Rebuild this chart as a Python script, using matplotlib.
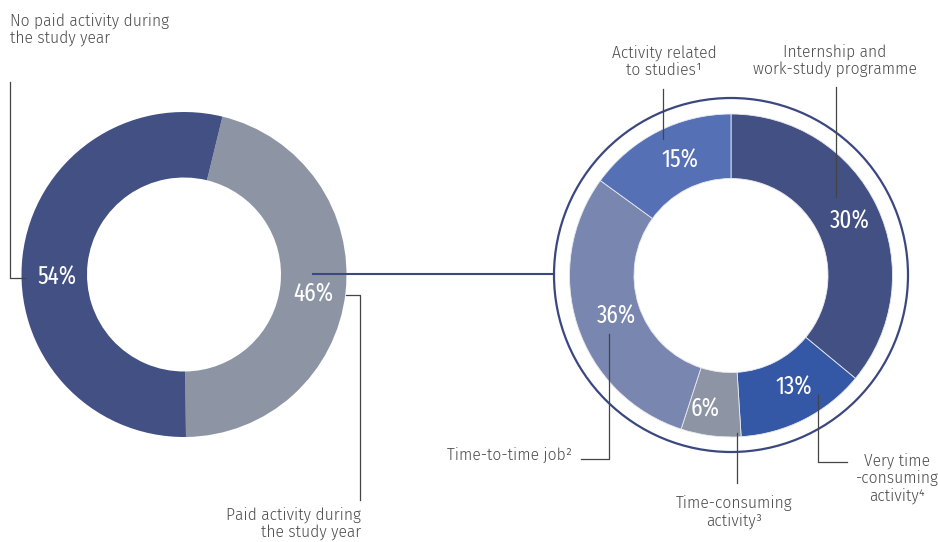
import matplotlib
matplotlib.use("Agg")
import matplotlib.pyplot as plt
from matplotlib.patches import Circle

# ---------------- data ----------------
left_categories = ["Paid activity during\nthe study year", "No paid activity during\nthe study year"]
left_shares = [46, 54]
left_labels = ["46%", "54%"]

right_categories = ["Internship and\nwork-study programme", "Very time\n-consuming\nactivity\u2074",
                    "Time-consuming\nactivity\u00b3", "Time-to-time job\u00b2", "Activity related\nto studies\u00b9"]
right_shares = [36, 13, 6, 30, 15]          # arc sizes as drawn in the picture
right_labels = ["30%", "13%", "6%", "36%", "15%"]  # printed labels

# ---------------- style ----------------
W, H = 938, 542
C_DARK = "#435084"
C_GREY = "#8d95a5"
C_BLUE = "#3457a6"
C_SLATE = "#7886b0"
C_MID = "#5570b5"
LINE_C = "#444444"
RING_C = "#3b4880"
TXT_C = "#4a4a4a"

fig = plt.figure(figsize=(W / 100, H / 100), dpi=100)
ax = fig.add_axes([0, 0, 1, 1])


def Y(y):
    return H - y


# left donut
ax.pie(left_shares, colors=[C_GREY, C_DARK], startangle=76.3, counterclock=False,
       center=(184, Y(274.5)), radius=162.5, wedgeprops=dict(width=65.5, linewidth=0))

# right donut
ax.pie(right_shares, colors=[C_DARK, C_BLUE, C_GREY, C_SLATE, C_MID], startangle=90,
       counterclock=False, center=(731, Y(275.5)), radius=161.5,
       wedgeprops=dict(width=64.5, linewidth=0.6, edgecolor="#e8eaf0"))

# outer ring around right donut
ax.add_patch(Circle((731, Y(275)), 177, fill=False, edgecolor=RING_C, linewidth=1.6))

ax.set_xlim(0, W)
ax.set_ylim(0, H)
ax.set_aspect("equal")
ax.axis("off")

# connector between donuts
ax.plot([313, 554], [Y(274), Y(274)], color=RING_C, lw=1.5)

pct_font = dict(family=["Fira Sans Extra Condensed", "DejaVu Sans"], fontweight=400,
                color="white", fontsize=18, ha="center", va="center")
# percentage labels
left_pos = [(313, 294), (57, 277)]
for (x, y), t in zip(left_pos, left_labels):
    ax.text(x, Y(y), t, **pct_font)
right_pos = [(850, 221), (794, 387), (705, 409), (616, 316), (680, 160)]
for (x, y), t in zip(right_pos, right_labels):
    ax.text(x, Y(y), t, **pct_font)

lab_font = dict(family=["Fira Sans", "DejaVu Sans"], fontweight=300, color=TXT_C,
                fontsize=11.3, linespacing=1.1)

# left annotations
ax.text(10, Y(29), left_categories[1], ha="left", va="center", **lab_font)
ax.plot([10, 10, 25], [Y(82), Y(277.5), Y(277.5)], color=LINE_C, lw=0.9)

ax.text(361, Y(523), left_categories[0], ha="right", va="center", **lab_font)
ax.plot([346, 360, 360], [Y(295), Y(295), Y(500)], color=LINE_C, lw=0.9)

# right annotations
ax.text(835, Y(61), right_categories[0], ha="center", va="center", **lab_font)
ax.plot([835.5, 835.5], [Y(87), Y(197)], color=LINE_C, lw=0.9)

ax.text(664, Y(61), right_categories[4], ha="center", va="center", **lab_font)
ax.plot([663, 663], [Y(89), Y(139)], color=LINE_C, lw=0.9)

ax.text(572, Y(455), right_categories[3], ha="right", va="center", **lab_font)
ax.plot([581, 608.5, 608.5], [Y(459), Y(459), Y(334)], color=LINE_C, lw=0.9)

ax.text(734, Y(512), right_categories[2], ha="center", va="center", **lab_font)
ax.plot([736.5, 736.5], [Y(433), Y(483)], color=LINE_C, lw=0.9)

ax.text(897, Y(478), right_categories[1], ha="center", va="center", **lab_font)
ax.plot([818, 818, 847], [Y(395), Y(462), Y(462)], color=LINE_C, lw=0.9)

fig.savefig("out.png", dpi=100, facecolor="white")
